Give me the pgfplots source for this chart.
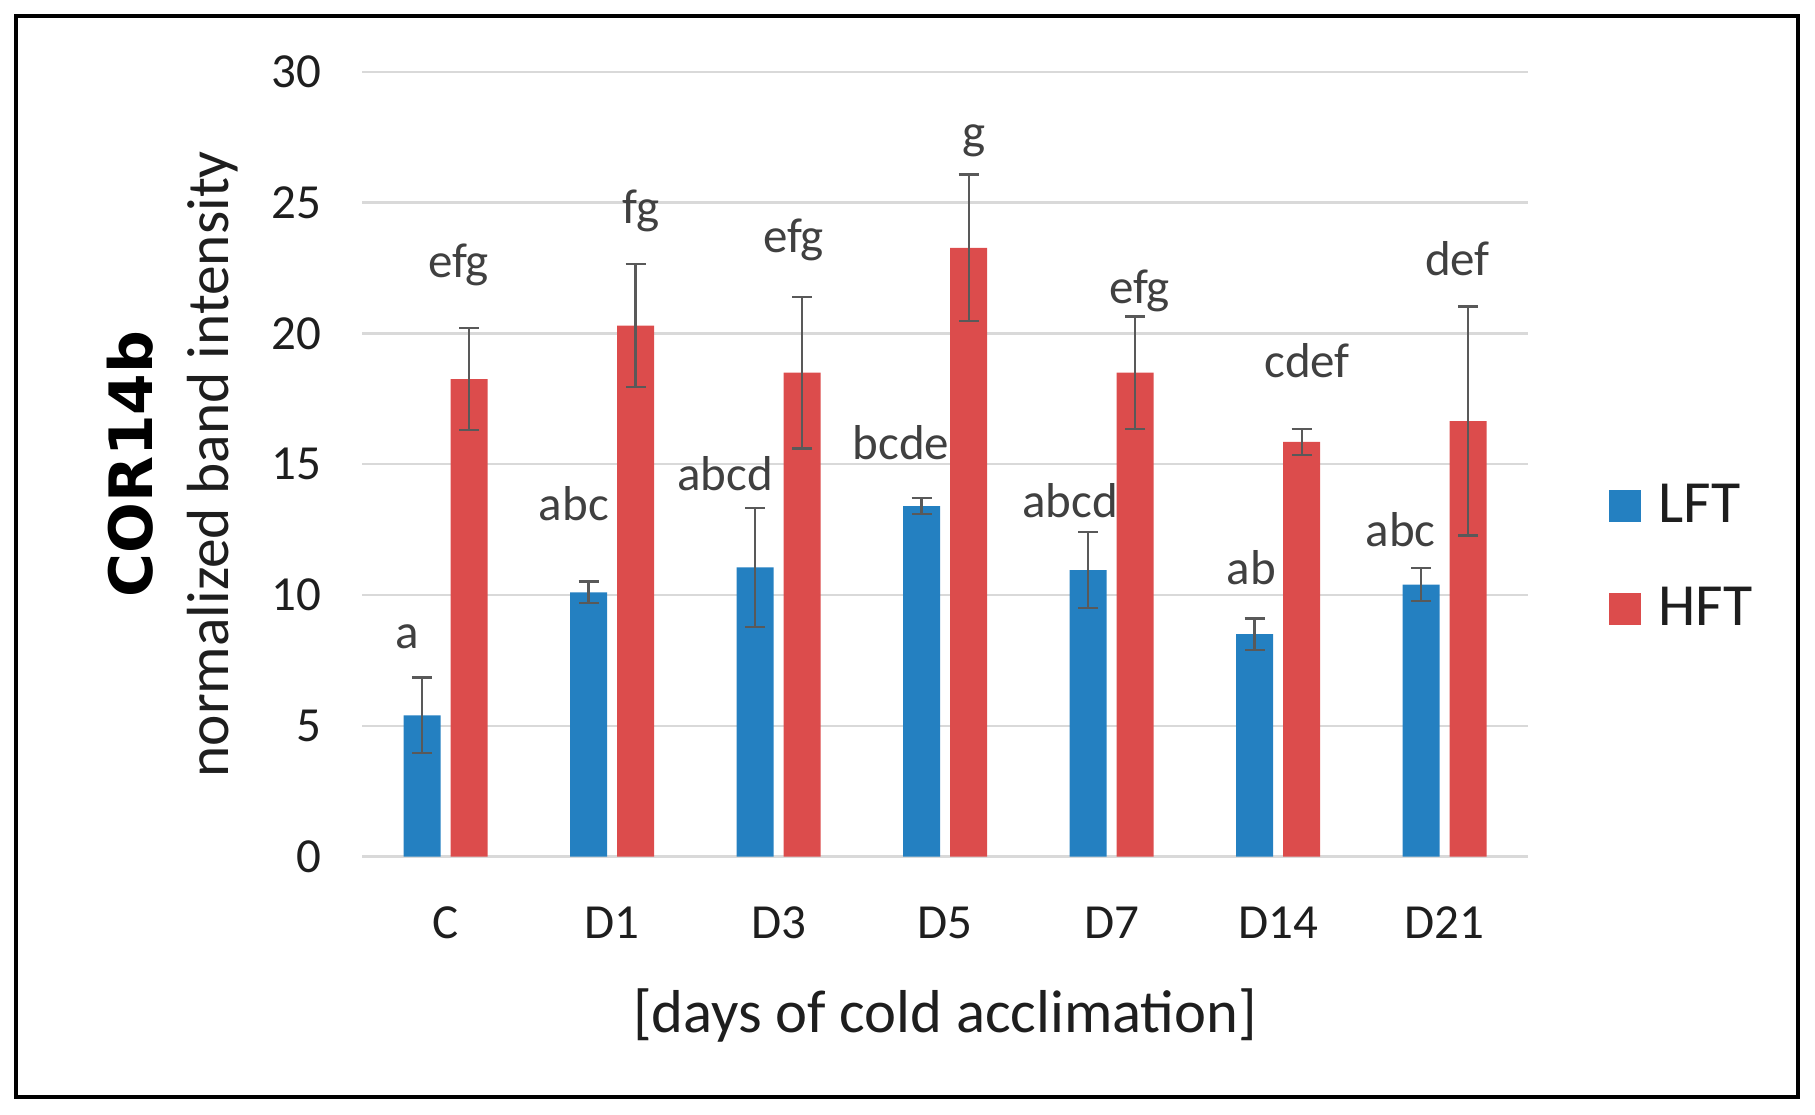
\documentclass[border=0pt]{standalone}
\usepackage{pgfplots}
\pgfplotsset{compat=1.18}
\usepackage{pgfplotstable}
\usepackage{fontspec}
\setmainfont{Carlito}
\newfontfamily\verdanalike{DejaVu Sans}

\definecolor{lftblue}{HTML}{2480C1}
\definecolor{hftred}{HTML}{DC4C4C}
\definecolor{gridgray}{HTML}{D9D9D9}
\definecolor{errgray}{HTML}{595959}
\definecolor{lblgray}{HTML}{404040}
\definecolor{txt}{HTML}{1E1E1E}

% x  LFT  LFTerr  HFT  HFTerr
\pgfplotstableread{
x  lft   lfterr  hft    hfterr
0  5.40  1.45    18.25  1.95
1  10.10 0.42    20.30  2.35
2  11.05 2.27    18.50  2.90
3  13.40 0.30    23.27  2.80
4  10.95 1.45    18.50  2.15
5  8.50  0.60    15.85  0.50
6  10.40 0.62    16.65  4.38
}\cordata

\begin{document}
\begin{tikzpicture}
\path (-93.9pt,-66.9pt) rectangle (376.5pt,222pt);
\begin{axis}[
  scale only axis,
  width=302.1pt, height=203.4pt,
  ybar, bar width=9.6pt,
  xmin=-0.5, xmax=6.5,
  ymin=0, ymax=30,
  ytick={0,5,...,30},
  xtick={0,...,6},
  xticklabels={C,D1,D3,D5,D7,D14,D21},
  axis line style={draw=none},
  major tick length=0pt,
  ymajorgrids,
  grid style={gridgray, line width=0.6pt},
  /pgf/number format/assume math mode=true,
  tick label style={font=\fontsize{12.7}{14}\selectfont, text=txt},
  yticklabel style={xshift=-7pt},
  xticklabel style={yshift=-9.5pt},
  xlabel={[days of cold acclimation]},
  xlabel style={font=\fontsize{15.7}{18}\selectfont, text=txt, yshift=-6pt},
  ylabel={normalized band intensity},
  ylabel style={font=\fontsize{15.4}{18}\selectfont, text=txt, yshift=2pt},
  error bars/error bar style={errgray, line width=0.6pt},
  error bars/error mark options={rotate=90, errgray, mark size=2.6pt, line width=0.6pt},
  legend style={draw=none, fill=none, at={(1.059,0.381)}, anchor=west,
    font=\fontsize{15.5}{17}\selectfont, text=txt, row sep=11.3pt,
    column sep=2.4pt, legend cell align=left},
  legend image code/.code={\fill[#1] (0pt,-4.2pt) rectangle (8.4pt,4.2pt);},
  clip=false,
]
\addplot[fill=lftblue, draw=none, bar shift=-6.1pt,
  error bars/.cd, y dir=both, y explicit]
  table[x=x, y=lft, y error=lfterr] {\cordata};
\addlegendentry{LFT}
\addplot[fill=hftred, draw=none, bar shift=6.1pt,
  error bars/.cd, y dir=both, y explicit]
  table[x=x, y=hft, y error=hfterr] {\cordata};
\addlegendentry{HFT}

\begin{scope}[every node/.style={anchor=base, text=lblgray, font=\fontsize{12.7}{14}\selectfont, inner sep=0pt}]
\node at (axis cs:-0.23,7.96) {a};
\node at (axis cs:0.077,22.12) {efg};
\node at (axis cs:0.77,12.83) {abc};
\node at (axis cs:1.174,24.2) {fg};
\node at (axis cs:1.68,13.98) {abcd};
\node at (axis cs:2.09,23.1) {efg};
\node at (axis cs:2.735,15.18) {bcde};
\node at (axis cs:3.174,27.08) {g};
\node at (axis cs:3.75,12.96) {abcd};
\node at (axis cs:4.167,21.15) {efg};
\node at (axis cs:4.84,10.4) {ab};
\node at (axis cs:5.174,18.3) {cdef};
\node at (axis cs:5.735,11.86) {abc};
\node at (axis cs:6.077,22.2) {def};
\end{scope}
\end{axis}
\node[rotate=90, anchor=base, inner sep=0pt, text=black,
  font=\verdanalike\bfseries\fontsize{15.5}{18}\selectfont] at (-54.5pt,101.7pt) {COR14b};
\draw[line width=1pt] (-89.7pt,-62.4pt) rectangle (372pt,217.8pt);
\end{tikzpicture}
\end{document}
